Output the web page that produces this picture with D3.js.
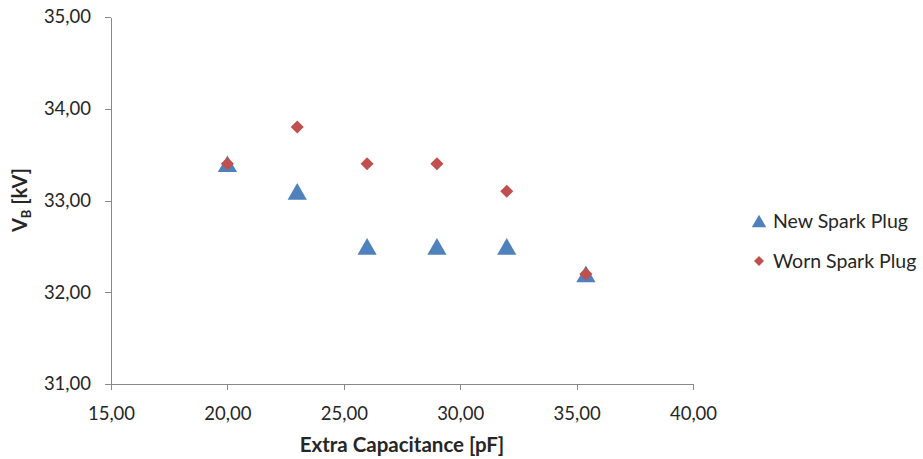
<!DOCTYPE html>
<html>
<head>
<meta charset="utf-8">
<script src="https://cdn.jsdelivr.net/npm/d3@7"></script>
<style>
  body { margin: 0; background: #fff; }
  text { font-family: Lato, "Open Sans", sans-serif; fill: #262626; }
</style>
</head>
<body>
<div id="chart"></div>
<script>
var capacitance = [20.0, 23.0, 26.0, 29.0, 32.0, 35.4];
var newPlug = [33.4, 33.1, 32.5, 32.5, 32.5, 32.2];
var wornPlug = [33.4, 33.8, 33.4, 33.4, 33.1, 32.2];
var xTicks = [15, 20, 25, 30, 35, 40];
var yTicks = [31, 32, 33, 34, 35];
var seriesNames = ["New Spark Plug", "Worn Spark Plug"];
var colors = ["#4f81bd", "#c0504d"];

var W = 923, H = 459;
var margin = { top: 17, left: 111 },
    width = 693 - 111,
    height = 384 - 17;

var svg = d3.select("#chart").append("svg")
    .attr("width", W)
    .attr("height", H);

var g = svg.append("g")
    .attr("transform", "translate(" + margin.left + "," + margin.top + ")");

var x = d3.scaleLinear().domain([15, 40]).range([0, width]);
var y = d3.scaleLinear().domain([31, 35]).range([height, 0]);

var fmt = function(d) { return d3.format(".2f")(d).replace(".", ","); };

// axes
var xAxis = g.append("g")
    .attr("transform", "translate(0," + height + ")")
    .call(d3.axisBottom(x).tickValues(xTicks).tickFormat(fmt).tickSize(6).tickSizeOuter(0));
var yAxis = g.append("g")
    .call(d3.axisLeft(y).tickValues(yTicks).tickFormat(fmt).tickSize(6).tickSizeOuter(0));

[xAxis, yAxis].forEach(function(a) {
  a.selectAll("path, line").attr("stroke", "#888").attr("shape-rendering", "crispEdges");
  a.selectAll("text").style("font-size", "18.5px").style("font-family", "Lato, sans-serif").attr("fill", "#262626");
});
xAxis.selectAll("text").attr("y", 30).attr("dy", "0.35em");
yAxis.selectAll("text").attr("x", -20);

// axis titles
svg.append("text")
    .attr("x", 402).attr("y", 452)
    .attr("text-anchor", "middle")
    .style("font-size", "20.5px").style("font-weight", "bold")
    .text("Extra Capacitance [pF]");

var yt = svg.append("text")
    .attr("transform", "translate(27,200) rotate(-90)")
    .attr("text-anchor", "middle")
    .style("font-size", "20px").style("font-weight", "bold");
yt.append("tspan").text("V");
yt.append("tspan").attr("dy", 4).style("font-size", "13px").text("B");
yt.append("tspan").attr("dy", -4).text(" [kV]");

// Excel-like markers: triangle centred on its box, diamond = rotated square
var triSize = 160, triH = Math.sqrt(triSize * Math.sqrt(3));
var tri = d3.symbol().type(d3.symbolTriangle).size(triSize);
var dia = d3.symbol().type(d3.symbolSquare).size(85);

g.selectAll(".newpt")
    .data(capacitance)
    .enter().append("path")
    .attr("class", "newpt")
    .attr("d", tri)
    .attr("fill", colors[0])
    .attr("transform", function(d, i) { return "translate(" + x(d) + "," + (y(newPlug[i]) + triH / 6) + ")"; });

g.selectAll(".wornpt")
    .data(capacitance)
    .enter().append("path")
    .attr("class", "wornpt")
    .attr("d", dia)
    .attr("fill", colors[1])
    .attr("transform", function(d, i) { return "translate(" + x(d) + "," + y(wornPlug[i]) + ") rotate(45)"; });

// legend
var legend = svg.append("g").attr("transform", "translate(759,0)");
legend.append("path").attr("d", d3.symbol().type(d3.symbolTriangle).size(90)).attr("fill", colors[0])
    .attr("transform", "translate(0,223)");
legend.append("path").attr("d", d3.symbol().type(d3.symbolSquare).size(50)).attr("fill", colors[1])
    .attr("transform", "translate(0,261) rotate(45)");
legend.selectAll(".lt")
    .data(seriesNames)
    .enter().append("text")
    .attr("x", 14)
    .attr("y", function(d, i) { return 221 + i * 40; })
    .attr("dy", "0.35em")
    .style("font-size", "19.5px")
    .text(function(d) { return d; });
</script>
</body>
</html>
